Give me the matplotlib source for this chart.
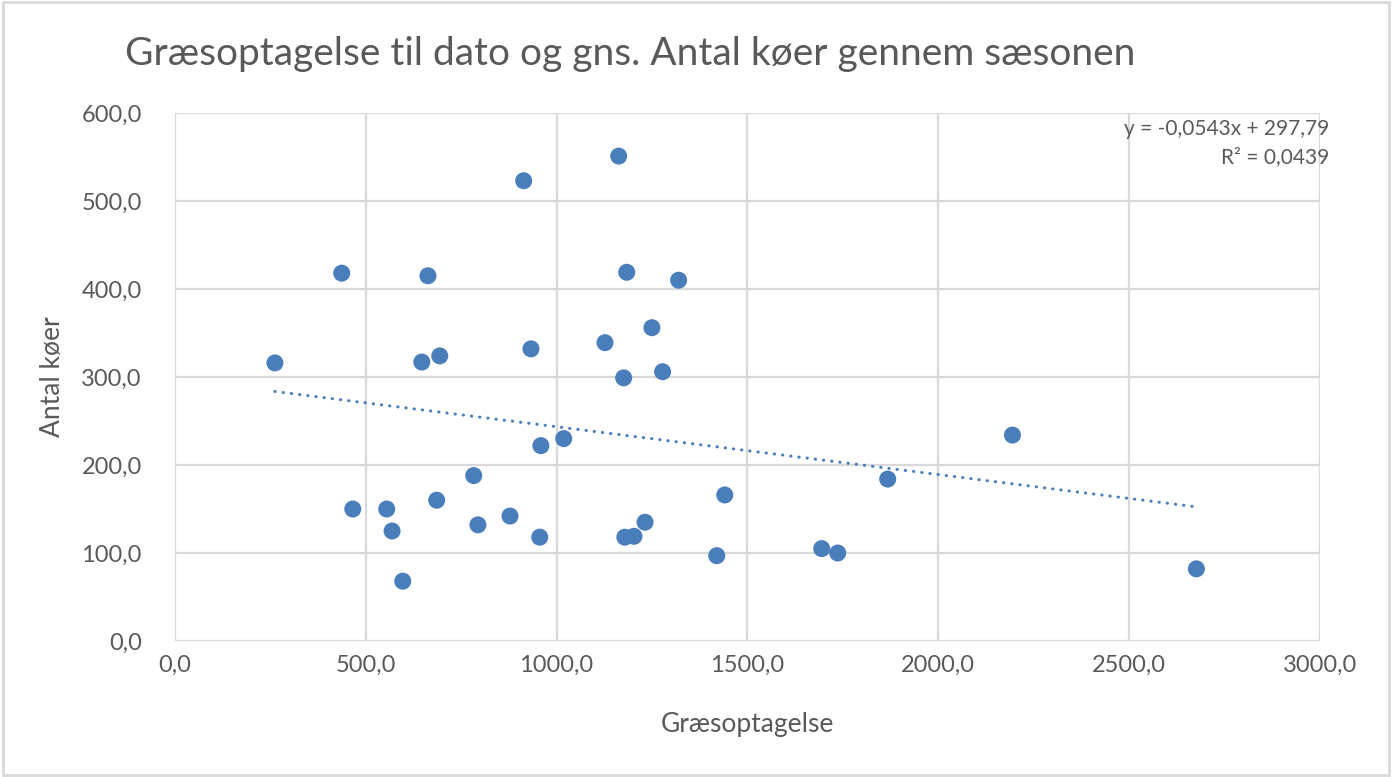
import numpy as np
import matplotlib
matplotlib.use("Agg")
import matplotlib.pyplot as plt
from matplotlib.ticker import FuncFormatter, MultipleLocator
from matplotlib.patches import Rectangle

# Data
graes = [262, 437, 466, 555, 569, 597, 647, 663, 686, 694, 783, 794, 878, 914,
         933, 956, 959, 1019, 1127, 1163, 1176, 1179, 1184, 1203, 1232, 1250,
         1278, 1320, 1420, 1441, 1695, 1737, 1868, 2195, 2677]
koer = [316, 418, 150, 150, 125, 68, 317, 415, 160, 324, 188, 132, 142, 523,
        332, 118, 222, 230, 339, 551, 299, 118, 419, 119, 135, 356, 306, 410,
        97, 166, 105, 100, 184, 234, 82]

title = "Græsoptagelse til dato og gns. Antal køer gennem sæsonen"
xlabel = "Græsoptagelse"
ylabel = "Antal køer"

blue = "#4a7ebb"
grey_text = "#595959"
grid_col = "#d9d9d9"

plt.rcParams['font.family'] = ['Lato', 'DejaVu Sans']

fig = plt.figure(figsize=(13.92, 7.77), dpi=100)
ax = fig.add_axes([0.1257, 0.175, 0.948 - 0.1257, 0.8546 - 0.175])

x = np.array(graes, dtype=float)
y = np.array(koer, dtype=float)

# linear trendline as printed on the chart
slope, intercept = -0.0543, 297.79
xt = np.array([x.min(), x.max()])
ax.plot(xt, slope * xt + intercept, color=blue, lw=2.2,
        linestyle=(0, (0.1, 2.6)), dash_capstyle='round', zorder=2)

ax.scatter(x, y, s=150, color=blue, edgecolors='none', zorder=3)

ax.set_xlim(0, 3000)
ax.set_ylim(0, 600)
ax.xaxis.set_major_locator(MultipleLocator(500))
ax.yaxis.set_major_locator(MultipleLocator(100))
fmt = FuncFormatter(lambda v, p: f"{v:.1f}".replace(".", ","))
ax.xaxis.set_major_formatter(fmt)
ax.yaxis.set_major_formatter(fmt)

ax.grid(True, color=grid_col, lw=1.6, zorder=0)
ax.set_axisbelow(True)
for s in ax.spines.values():
    s.set_visible(False)
ax.tick_params(length=0, labelsize=17, colors=grey_text, pad=10)
ax.tick_params(axis='y', pad=24)

ax.set_xlabel(xlabel, fontsize=19, color=grey_text)
ax.set_ylabel(ylabel, fontsize=19, color=grey_text)
ax.xaxis.set_label_coords(0.5, -0.135)
ax.yaxis.set_label_coords(-0.096, 0.5)

fig.text(0.453, 0.93, title, fontsize=28, color=grey_text, ha='center', va='center')

fig.text(0.955, 0.816, "y = -0,0543x + 297,79\nR² = 0,0439", fontsize=15,
         color=grey_text, ha='right', va='center', multialignment='right',
         linespacing=1.5)

# outer chart border
fig.patches.append(Rectangle((0.002, 0.003), 0.996, 0.994, transform=fig.transFigure,
                             fill=False, edgecolor=grid_col, lw=2))

fig.savefig("out.png", dpi=100)
